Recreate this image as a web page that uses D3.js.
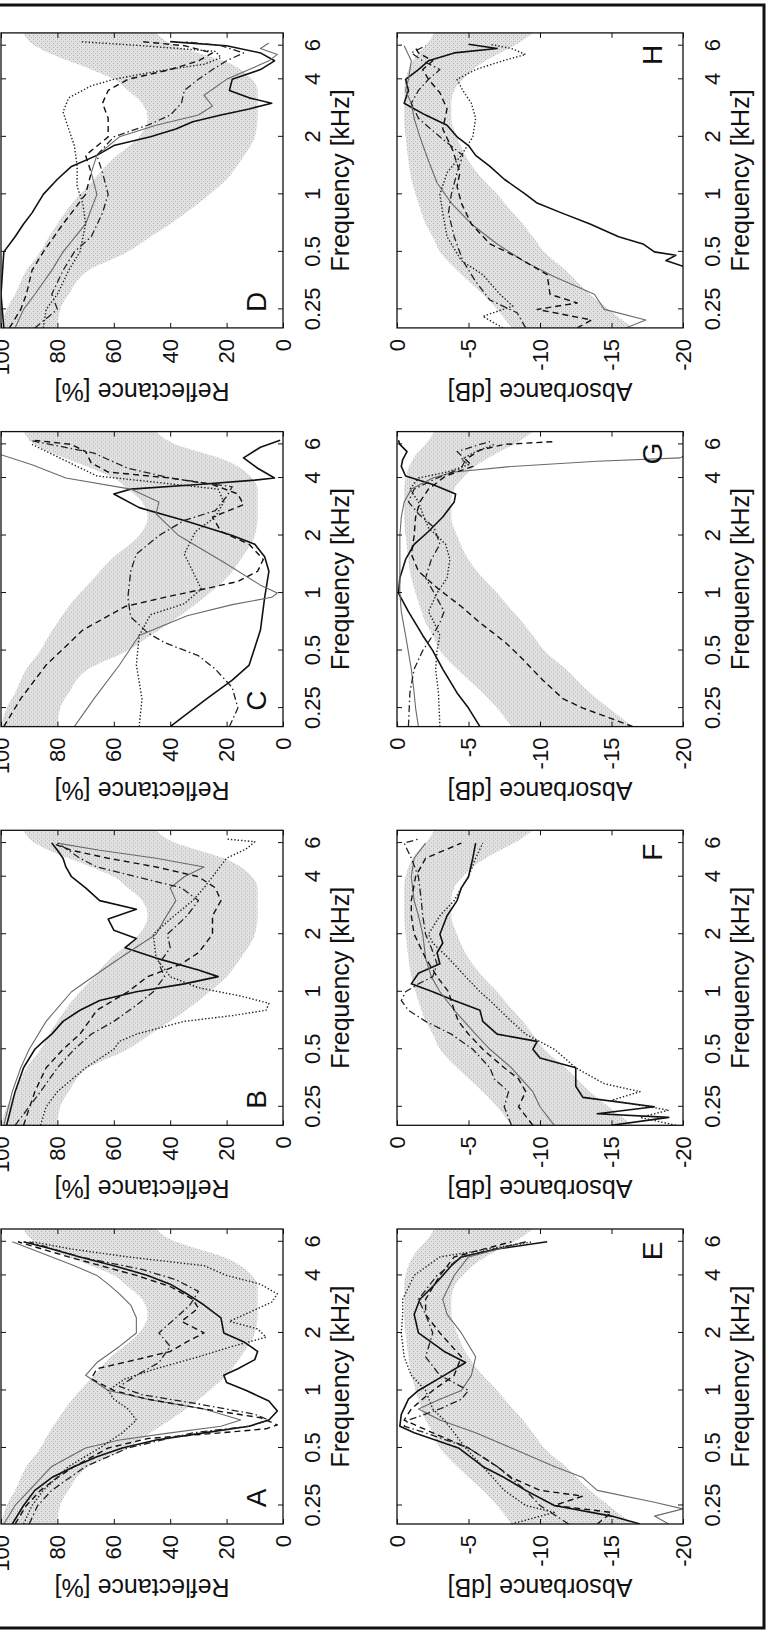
<!DOCTYPE html>
<html>
<head>
<meta charset="utf-8">
<script src="https://cdn.jsdelivr.net/npm/d3@7"></script>
<style>body{margin:0;background:#fff}</style>
</head>
<body>
<div id="chart"></div>
<script>
// ---- data: [kHz, value] ----
var freqTicks = [0.25, 0.5, 1, 2, 4, 6];
var freqTickLabels = ["0.25", "0.5", "1", "2", "4", "6"];
var reflTicks = [0, 20, 40, 60, 80, 100];
var absTicks = [-20, -15, -10, -5, 0];
var panelLetters = ["A", "B", "C", "D", "E", "F", "G", "H"];

// normative range [kHz, low, high]
var normRefl = [[0.2,80,100],[0.25,79,98],[0.3,76,95],[0.4,69,91],[0.5,55,86],[0.6,47,83],[0.7,40,80],[0.85,32,76],[1.0,26,72],[1.2,20,67],[1.5,15,61],[2.0,10,51],[2.5,9,48],[3.0,9,50],[3.5,9,55],[4.0,11,60],[4.5,15,68],[5.0,21,76],[5.5,30,83],[6.0,38,88],[7.0,45,92]];
var normAbs = [[0.2,-16.5,-8],[0.25,-14.8,-7],[0.3,-13.5,-6],[0.4,-11.8,-4.2],[0.5,-10.3,-3],[0.6,-9.5,-2.5],[0.7,-8.8,-2],[0.85,-7.8,-1.6],[1.0,-7,-1.3],[1.2,-6,-1],[1.5,-5,-0.8],[2.0,-4.2,-0.6],[2.5,-3.8,-0.5],[3.0,-3.8,-0.5],[3.5,-4,-0.5],[4.0,-4.6,-0.6],[4.5,-5.3,-0.8],[5.0,-6.2,-1.1],[5.5,-7.2,-1.5],[6.0,-8.2,-2],[7.0,-9.5,-2.6]];

// panel A (reflectance %)
var A_solid = [[0.2,96],[0.25,92],[0.3,88],[0.35,82],[0.4,74],[0.45,66],[0.5,57],[0.55,45],[0.6,28],[0.65,12],[0.7,5],[0.78,2],[0.88,5],[1.0,13],[1.1,20],[1.2,21],[1.3,16],[1.45,10],[1.6,9],[1.8,14],[2.0,21],[2.4,22],[2.8,28],[3.2,34],[3.6,40],[4.0,48],[4.5,60],[5.0,72],[5.5,82],[6.0,92]];
var A_grey = [[0.2,99],[0.25,95],[0.3,90],[0.4,82],[0.5,70],[0.55,58],[0.6,40],[0.65,22],[0.7,15],[0.8,28],[0.9,48],[1.0,62],[1.2,70],[1.4,66],[1.7,58],[2.0,52],[2.4,52],[2.8,54],[3.2,58],[3.6,62],[4.0,66],[4.5,74],[5.0,82],[6.0,96]];
var A_dashed = [[0.2,95],[0.25,91],[0.3,86],[0.35,80],[0.4,74],[0.5,62],[0.56,48],[0.6,22],[0.63,6],[0.66,2],[0.72,8],[0.8,28],[0.9,48],[1.0,60],[1.15,68],[1.3,66],[1.45,52],[1.6,40],[1.8,34],[2.0,28],[2.3,36],[2.7,30],[3.0,32],[3.5,40],[4.0,52],[5.0,76],[6.0,94]];
var A_dotted = [[0.2,92],[0.25,89],[0.3,85],[0.4,76],[0.5,65],[0.6,57],[0.7,52],[0.8,55],[0.9,60],[1.0,62],[1.15,56],[1.3,45],[1.5,30],[1.7,18],[1.9,6],[2.1,9],[2.3,19],[2.6,11],[2.9,4],[3.2,2],[3.6,8],[4.0,20],[4.5,28],[5.0,55],[5.5,75],[6.0,89]];
var A_dashdot = [[0.2,90],[0.25,87],[0.3,82],[0.4,70],[0.5,55],[0.6,32],[0.65,12],[0.7,5],[0.75,10],[0.85,30],[0.95,50],[1.05,58],[1.2,52],[1.4,44],[1.7,40],[2.0,44],[2.4,38],[2.8,33],[3.3,30],[3.8,38],[4.3,50],[5.0,72],[6.0,90]];

// panel B
var B_solid = [[0.2,98],[0.3,95],[0.4,92],[0.5,88],[0.55,85],[0.6,82],[0.7,78],[0.8,72],[0.9,65],[1.0,52],[1.1,35],[1.2,23],[1.3,30],[1.5,45],[1.7,56],[1.9,52],[2.1,60],[2.4,62],[2.7,52],[3.0,65],[3.5,70],[4.0,75],[4.5,77],[5.0,78],[5.5,80],[6.0,82]];
var B_grey = [[0.2,99],[0.3,96],[0.4,93],[0.5,90],[0.7,84],[1.0,75],[1.3,64],[1.6,55],[2.0,45],[2.4,42],[3.0,38],[3.5,40],[4.0,35],[4.5,28],[5.0,45],[5.5,65],[6.0,80]];
var B_dashed = [[0.2,92],[0.3,88],[0.4,84],[0.5,78],[0.6,72],[0.8,66],[1.0,55],[1.2,48],[1.4,36],[1.6,30],[2.0,25],[2.5,25],[3.0,22],[3.5,24],[4.0,30],[4.5,45],[5.0,62],[5.5,75],[6.0,82]];
var B_dotted = [[0.2,86],[0.25,84],[0.3,80],[0.4,70],[0.5,60],[0.55,58],[0.6,52],[0.7,35],[0.75,18],[0.8,6],[0.87,5],[0.95,15],[1.05,30],[1.2,40],[1.5,45],[2.0,46],[2.4,40],[3.0,32],[3.5,28],[4.0,25],[5.0,20],[5.6,13],[6.1,10],[6.3,20]];
var B_dashdot = [[0.2,95],[0.25,90],[0.3,86],[0.4,80],[0.5,74],[0.6,68],[0.7,60],[0.85,52],[1.0,46],[1.2,42],[1.4,44],[1.7,40],[2.0,41],[2.5,34],[3.0,30],[3.5,36],[4.0,52],[4.5,66],[5.0,72],[5.5,76],[6.0,80]];

// panel C
var C_solid = [[0.2,40],[0.28,27],[0.35,18],[0.42,12],[0.64,8],[0.95,6.5],[1.3,5],[1.55,6.5],[1.8,10],[2.0,18],[2.4,35],[2.8,51],[3.3,60],[3.5,54],[3.7,30],[3.9,10],[4.0,3],[4.5,9],[5.1,14],[5.8,8],[6.3,1]];
var C_grey = [[0.2,74],[0.28,67],[0.42,58],[0.6,51],[0.76,34],[0.87,18],[0.95,4],[1.0,2],[1.1,8],[1.45,21],[2.0,37],[2.6,45],[3.0,44],[3.5,54],[4.0,77],[4.7,89],[5.3,100]];
var C_dashed = [[0.2,99],[0.28,93],[0.42,84],[0.64,71],[0.85,56],[0.95,42],[1.05,28],[1.15,16],[1.3,9],[1.5,7],[1.8,12],[2.1,22],[2.5,25],[2.9,14],[3.3,16],[3.7,25],[4.0,40],[4.3,62],[4.8,68],[5.5,70],[6.0,75],[6.3,88]];
var C_dotted = [[0.2,51],[0.28,50],[0.42,52],[0.6,51],[0.77,47],[0.88,35],[1.05,29],[1.3,32],[1.6,35],[2.1,31],[2.5,24],[3.0,21],[3.5,23],[3.8,45],[4.1,66],[5.0,78],[6.0,89]];
var C_dashdot = [[0.2,19],[0.25,16],[0.32,18],[0.4,24],[0.47,30],[0.55,42],[0.62,48],[0.75,54],[0.95,55],[1.3,54],[1.6,52],[2.0,44],[2.4,35],[2.7,24],[3.2,20],[3.6,18],[4.0,40],[4.5,55],[5.0,62],[5.4,67],[5.9,80],[6.3,90]];

// panel D
var D_solid = [[0.2,99],[0.3,100],[0.5,99],[0.6,95],[0.7,92],[0.8,89],[1.0,85],[1.2,80],[1.4,75],[1.6,66],[1.8,60],[2.0,47],[2.2,38],[2.4,32],[2.6,22],[2.8,12],[3.0,4],[3.2,12],[3.5,19],[4.0,18],[4.5,8],[5.0,3],[5.5,8],[6.0,20],[6.3,40]];
var D_grey = [[0.2,95],[0.25,92],[0.3,88],[0.4,82],[0.5,78],[0.7,70],[1.0,66],[1.3,68],[1.6,66],[2.0,58],[2.3,45],[2.6,30],[2.9,25],[3.3,28],[4.0,20],[4.5,12],[5.0,5],[5.4,2],[5.8,8],[6.2,5]];
var D_dashed = [[0.2,97],[0.25,93],[0.3,91],[0.4,89],[0.5,85],[0.7,78],[1.0,70],[1.3,68],[1.6,70],[2.0,62],[2.5,62],[3.0,64],[3.5,62],[4.0,55],[4.5,40],[5.0,30],[5.5,25],[6.0,35],[6.3,50]];
var D_dotted = [[0.2,85],[0.25,84],[0.3,80],[0.4,76],[0.5,72],[0.7,70],[0.9,71],[1.1,73],[1.4,73],[1.8,74],[2.2,76],[2.7,78],[3.2,76],[3.7,68],[4.0,60],[4.4,45],[4.8,28],[5.2,22],[5.6,24],[6.0,50],[6.3,72]];
var D_dashdot = [[0.2,88],[0.25,80],[0.3,82],[0.4,78],[0.5,74],[0.6,68],[0.8,64],[1.0,62],[1.3,64],[1.6,66],[2.0,60],[2.3,48],[2.6,40],[3.0,36],[3.5,35],[4.0,30],[4.5,25],[5.0,20],[5.5,14],[6.0,22],[6.3,35]];

// panel E (absorbance dB)
var E_solid = [[0.2,-17],[0.22,-15],[0.25,-11],[0.3,-9],[0.35,-7.5],[0.4,-6],[0.5,-4.3],[0.6,-1.2],[0.65,-0.2],[0.75,-0.3],[0.9,-0.8],[1.0,-1.5],[1.2,-3.3],[1.4,-4.8],[1.6,-3.3],[2.0,-1.5],[2.5,-1.2],[3.0,-1.6],[3.5,-2.5],[4.0,-3.2],[4.5,-3.8],[5.0,-4.5],[5.5,-7],[6.0,-10.5]];
var E_grey = [[0.2,-19],[0.22,-18],[0.24,-20],[0.26,-18],[0.3,-14],[0.35,-13],[0.4,-11],[0.5,-8],[0.6,-5.5],[0.7,-3],[0.8,-1.5],[0.9,-3],[1.0,-4.5],[1.2,-5.2],[1.5,-5.5],[2.0,-4.5],[2.5,-3.5],[3.0,-3.2],[4.0,-4],[5.0,-5],[6.0,-9]];
var E_dashed = [[0.2,-14],[0.23,-15],[0.25,-11],[0.28,-13],[0.3,-10],[0.35,-8],[0.4,-7],[0.5,-5],[0.6,-2.5],[0.7,-0.5],[0.8,-1],[1.0,-2.5],[1.2,-4],[1.5,-4.5],[2.0,-3],[2.5,-2],[3.0,-2],[4.0,-3],[5.0,-4],[6.0,-8]];
var E_dotted = [[0.2,-8],[0.23,-11],[0.25,-9],[0.3,-7.5],[0.4,-6],[0.5,-4.8],[0.6,-4],[0.7,-3.3],[0.8,-2.5],[1.0,-2],[1.2,-1],[1.5,-0.5],[2.0,-0.3],[2.5,-0.4],[3.0,-0.4],[4.0,-1.2],[5.0,-3],[6.0,-9.5]];
var E_dashdot = [[0.2,-12],[0.25,-10],[0.3,-9],[0.4,-7],[0.5,-5],[0.6,-2],[0.65,-0.5],[0.7,-0.8],[0.8,-3],[0.9,-4.5],[1.0,-5],[1.2,-3],[1.5,-2],[2.0,-2.5],[2.5,-2],[3.0,-1.5],[4.0,-2.8],[5.0,-4.5],[6.0,-9]];

// panel F
var F_solid = [[0.2,-15],[0.22,-19],[0.23,-14],[0.25,-18],[0.28,-13],[0.32,-12.5],[0.4,-12.5],[0.45,-10],[0.5,-9.5],[0.55,-9.8],[0.6,-7],[0.7,-6],[0.8,-5.8],[0.9,-4],[1.0,-2.5],[1.1,-1],[1.25,-1.5],[1.4,-3],[1.6,-2.8],[1.8,-3.2],[2.0,-3],[2.5,-3.5],[3.0,-4.2],[3.5,-4.5],[4.0,-5],[5.0,-5.3],[6.0,-5.5]];
var F_grey = [[0.2,-11],[0.25,-10],[0.3,-9.5],[0.4,-8],[0.5,-6.5],[0.6,-5.5],[0.8,-4],[1.0,-3],[1.2,-2.4],[1.5,-2],[2.0,-1.8],[2.5,-1.5],[3.0,-1.2],[4.0,-1],[5.0,-1.2],[6.0,-2]];
var F_dashed = [[0.2,-9.5],[0.25,-8.5],[0.3,-9],[0.35,-8.5],[0.4,-7.5],[0.5,-6],[0.6,-5],[0.7,-4.3],[0.8,-4],[1.0,-3.6],[1.2,-2.8],[1.5,-2],[2.0,-1.2],[2.5,-1],[3.0,-1],[4.0,-1.3],[5.0,-2],[6.0,-4.5]];
var F_dotted = [[0.2,-19.5],[0.22,-17],[0.24,-19],[0.27,-15],[0.3,-17],[0.33,-14.5],[0.4,-12.5],[0.5,-11],[0.6,-9],[0.7,-8],[0.8,-7.2],[0.9,-6.5],[1.0,-5.8],[1.2,-4.8],[1.5,-3.6],[1.8,-2.5],[2.0,-2.2],[2.5,-3],[3.0,-4],[3.5,-4.5],[4.0,-5],[5.0,-5.5],[6.0,-6]];
var F_dashdot = [[0.2,-8],[0.25,-7.5],[0.3,-7.8],[0.35,-6.8],[0.4,-6.5],[0.5,-5.3],[0.6,-3.8],[0.7,-2],[0.8,-0.8],[0.9,-0.3],[1.0,-0.6],[1.1,-1.5],[1.2,-2.5],[1.4,-2.8],[1.7,-2.4],[2.0,-2],[2.5,-1.8],[3.0,-1.7],[4.0,-1.5],[5.0,-1],[6.0,-0.5],[6.3,-1.5]];

// panel G
var G_solid = [[0.2,-5.8],[0.25,-5],[0.3,-4.2],[0.4,-3.2],[0.5,-2.5],[0.6,-1.8],[0.8,-0.8],[1.0,-0.1],[1.2,-0.2],[1.5,-0.6],[1.8,-1.2],[2.1,-2.2],[2.5,-3.2],[3.0,-4],[3.3,-4.1],[3.7,-2.5],[4.1,-0.6],[4.6,-0.3],[5.0,-0.4],[5.5,-0.7],[6.0,-0.2],[6.3,-0.1]];
var G_grey = [[0.2,-1.5],[0.25,-1.3],[0.3,-1.2],[0.4,-1],[0.6,-0.6],[0.8,-0.3],[1.0,-0.2],[1.3,-0.2],[1.6,-0.2],[2.0,-0.2],[2.5,-0.3],[3.0,-0.5],[3.5,-1],[4.0,-2.5],[4.3,-4],[4.6,-8],[4.9,-14],[5.1,-19.8],[5.2,-20]];
var G_dashed = [[0.2,-16.5],[0.22,-15],[0.25,-13],[0.28,-11.6],[0.35,-10.2],[0.45,-8.8],[0.55,-7.6],[0.7,-5.8],[0.85,-4.5],[1.05,-2.9],[1.3,-1.5],[1.6,-1],[2.0,-1.2],[2.5,-1.3],[3.0,-1.6],[3.5,-2.2],[4.1,-3.4],[4.6,-5.3],[5.0,-4.8],[5.6,-5.8],[6.0,-7.5],[6.2,-10.9]];
var G_dotted = [[0.2,-3],[0.3,-2.9],[0.4,-2.7],[0.5,-2.8],[0.6,-3],[0.7,-2.6],[0.8,-2.2],[1.0,-2.8],[1.2,-3.5],[1.5,-3.7],[1.8,-3.4],[2.2,-2.2],[2.6,-1.8],[3.0,-1.5],[3.5,-0.9],[4.0,-1.5],[4.3,-3.5],[4.7,-5],[5.0,-4.5],[5.5,-5.5],[6.0,-6.8]];
var G_dashdot = [[0.2,-0.8],[0.3,-0.9],[0.4,-1.2],[0.5,-1.8],[0.6,-2.5],[0.7,-3],[0.8,-3.3],[1.0,-2.6],[1.2,-2],[1.5,-2.4],[1.8,-3],[2.2,-2.6],[2.6,-1.5],[3.0,-0.8],[3.5,-1.2],[4.0,-2.8],[4.5,-4.5],[5.0,-4.8],[5.5,-4.2],[6.0,-5.8],[6.2,-6.5]];

// panel H
var H_solid = [[0.42,-20],[0.45,-18.8],[0.48,-19.5],[0.5,-18],[0.55,-17.2],[0.6,-15.5],[0.7,-13.5],[0.8,-11.5],[0.9,-9.8],[1.0,-9],[1.2,-7.5],[1.4,-6.5],[1.6,-5.5],[1.8,-5],[2.0,-4.2],[2.3,-3.5],[2.6,-2],[3.0,-0.5],[3.5,-0.8],[4.0,-0.6],[4.5,-1.5],[5.0,-2.2],[5.5,-4],[5.8,-7],[6.1,-5]];
var H_grey = [[0.2,-16],[0.22,-17.4],[0.25,-14.5],[0.3,-13.8],[0.37,-11],[0.45,-8.8],[0.55,-7],[0.7,-5.2],[0.9,-3.8],[1.15,-2.8],[1.5,-2.2],[2.0,-1.6],[2.5,-1.2],[3.0,-1],[3.5,-0.6],[4.0,-0.8],[5.0,-1],[6.0,-0.5]];
var H_dashed = [[0.2,-12.6],[0.22,-13.6],[0.25,-9.8],[0.27,-12.6],[0.3,-10.7],[0.38,-10.5],[0.47,-8.4],[0.55,-6.5],[0.7,-5.2],[0.9,-4.5],[1.1,-4.2],[1.3,-4.4],[1.7,-3.9],[2.2,-3.2],[2.8,-3.5],[3.4,-3],[4.0,-2.2],[4.5,-1.8],[5.0,-2.5],[5.5,-1.5],[6.0,-1.2]];
var H_dotted = [[0.2,-7.4],[0.23,-6],[0.26,-8.1],[0.3,-7.2],[0.38,-6],[0.45,-4.5],[0.6,-3.5],[0.8,-3.2],[1.0,-3],[1.3,-3.5],[1.6,-4.5],[2.0,-5.3],[2.5,-5.5],[3.0,-5.2],[3.5,-4.6],[4.0,-4.2],[4.5,-5.5],[5.0,-7.4],[5.4,-9],[5.8,-8],[6.1,-6.5]];
var H_dashdot = [[0.2,-9],[0.24,-8.4],[0.28,-6.5],[0.35,-5.5],[0.45,-4.6],[0.6,-4],[0.8,-3.6],[1.0,-3.8],[1.3,-4.2],[1.6,-4.6],[2.0,-3],[2.5,-1.5],[3.0,-1],[3.5,-1.5],[4.0,-2.2],[4.5,-3],[5.0,-1.8],[5.5,-1],[6.0,-2]];

// ---- layout ----
var W = 767, H = 1633;
var FONT = "'Liberation Sans', Arial, Helvetica, sans-serif";
var pw = 295;          // panel width (original, unrotated figure)
var colX = 109, colStep = 398.7;
var rowTop = [1, 397], rowH = [282, 286];

var svg = d3.select("#chart").append("svg")
  .attr("width", W).attr("height", H)
  .style("background", "#fff");

// stippled grey for the normative range
var pat = svg.append("defs").append("pattern")
  .attr("id", "stip").attr("patternUnits", "userSpaceOnUse")
  .attr("width", 4).attr("height", 4);
pat.append("rect").attr("width", 4).attr("height", 4).attr("fill", "#e3e3e3");
pat.append("rect").attr("x", 0).attr("y", 0).attr("width", 1).attr("height", 1).attr("fill", "#a9a9a9");
pat.append("rect").attr("x", 2).attr("y", 2).attr("width", 1).attr("height", 1).attr("fill", "#b5b5b5");
pat.append("rect").attr("x", 2).attr("y", 0).attr("width", 1).attr("height", 1).attr("fill", "#d0d0d0");

// the whole figure is printed turned a quarter turn anticlockwise
var fig = svg.append("g").attr("transform", "translate(0," + H + ") rotate(-90)");

var lineStyles = [
  {stroke: "#111", width: 1.6, dash: null},          // solid
  {stroke: "#6a6a6a", width: 1.1, dash: null},       // thin grey
  {stroke: "#111", width: 1.4, dash: "6,4"},         // dashed
  {stroke: "#222", width: 1.4, dash: "1.4,2"},       // dotted
  {stroke: "#222", width: 1.3, dash: "7,3,1.5,3"}    // dash-dot
];

var panelLines = [
  [A_solid, A_grey, A_dashed, A_dotted, A_dashdot],
  [B_solid, B_grey, B_dashed, B_dotted, B_dashdot],
  [C_solid, C_grey, C_dashed, C_dotted, C_dashdot],
  [D_solid, D_grey, D_dashed, D_dotted, D_dashdot],
  [E_solid, E_grey, E_dashed, E_dotted, E_dashdot],
  [F_solid, F_grey, F_dashed, F_dotted, F_dashdot],
  [G_solid, G_grey, G_dashed, G_dotted, G_dashdot],
  [H_solid, H_grey, H_dashed, H_dotted, H_dashdot]
];

panelLetters.forEach(function(letter, i) {
  var row = i < 4 ? 0 : 1;
  var col = i % 4;
  var ph = rowH[row];
  var isRefl = row === 0;

  var x = d3.scaleLog().domain([0.2, 7]).range([0, pw]);
  var y = isRefl
    ? d3.scaleLinear().domain([0, 100]).range([ph, 0])
    : d3.scaleLinear().domain([-20, 0]).range([ph, 0]);

  var g = fig.append("g")
    .attr("transform", "translate(" + (colX + col * colStep) + "," + rowTop[row] + ")");

  var clipId = "clip" + letter;
  g.append("clipPath").attr("id", clipId)
    .append("rect").attr("width", pw).attr("height", ph);

  var plot = g.append("g").attr("clip-path", "url(#" + clipId + ")");

  var band = isRefl ? normRefl : normAbs;
  plot.append("path")
    .attr("d", d3.area()
      .x(function(d) { return x(d[0]); })
      .y0(function(d) { return y(d[1]); })
      .y1(function(d) { return y(d[2]); })
      .curve(d3.curveMonotoneX)(band))
    .attr("fill", "url(#stip)");

  var line = d3.line()
    .x(function(d) { return x(d[0]); })
    .y(function(d) { return y(d[1]); });

  panelLines[i].forEach(function(series, k) {
    var st = lineStyles[k];
    plot.append("path")
      .attr("d", line(series))
      .attr("fill", "none")
      .attr("stroke", st.stroke)
      .attr("stroke-width", st.width)
      .attr("stroke-dasharray", st.dash)
      .attr("stroke-linejoin", "round");
  });

  // axes with inward ticks on all four sides
  var xb = g.append("g").attr("transform", "translate(0," + ph + ")")
    .call(d3.axisBottom(x).tickValues(freqTicks)
      .tickFormat(function(d, j) { return freqTickLabels[j]; })
      .tickSizeInner(-5).tickSizeOuter(0).tickPadding(21));
  g.append("g")
    .call(d3.axisTop(x).tickValues(freqTicks).tickFormat("")
      .tickSizeInner(-5).tickSizeOuter(0));
  var yl = g.append("g")
    .call(d3.axisLeft(y).tickValues(isRefl ? reflTicks : absTicks)
      .tickFormat(function(d) { return String(d); })   // plain hyphen minus as printed
      .tickSizeInner(-5).tickSizeOuter(0).tickPadding(11));
  g.append("g").attr("transform", "translate(" + pw + ",0)")
    .call(d3.axisRight(y).tickValues(isRefl ? reflTicks : absTicks).tickFormat("")
      .tickSizeInner(-5).tickSizeOuter(0));

  g.selectAll(".domain").remove();
  g.selectAll(".tick line").attr("stroke", "#111");
  [xb, yl].forEach(function(a) {
    a.attr("font-size", 22).attr("font-family", FONT);
    a.selectAll("text").attr("fill", "#111");
  });

  g.append("rect")
    .attr("width", pw).attr("height", ph)
    .attr("fill", "none").attr("stroke", "#111").attr("stroke-width", 1.3);

  g.append("text")
    .attr("x", pw / 2).attr("y", ph + 66)
    .attr("text-anchor", "middle")
    .attr("font-family", FONT).attr("font-size", 25).attr("fill", "#111")
    .text("Frequency [kHz]");

  g.append("text")
    .attr("transform", "translate(-55," + (ph / 2) + ") rotate(-90)")
    .attr("text-anchor", "middle")
    .attr("font-family", FONT).attr("font-size", 25).attr("fill", "#111")
    .text(isRefl ? "Reflectance [%]" : "Absorbance [dB]");

  g.append("text")
    .attr("x", isRefl ? 26 : pw - 22)
    .attr("y", isRefl ? ph - 17 : ph - 21)
    .attr("text-anchor", "middle")
    .attr("font-family", FONT).attr("font-size", 28).attr("fill", "#111")
    .text(letter);
});

// heavy frame round the printed figure
svg.append("path")
  .attr("d", "M0,5 H764 V1628 H0")
  .attr("fill", "none").attr("stroke", "#111").attr("stroke-width", 3);
</script>
</body>
</html>
